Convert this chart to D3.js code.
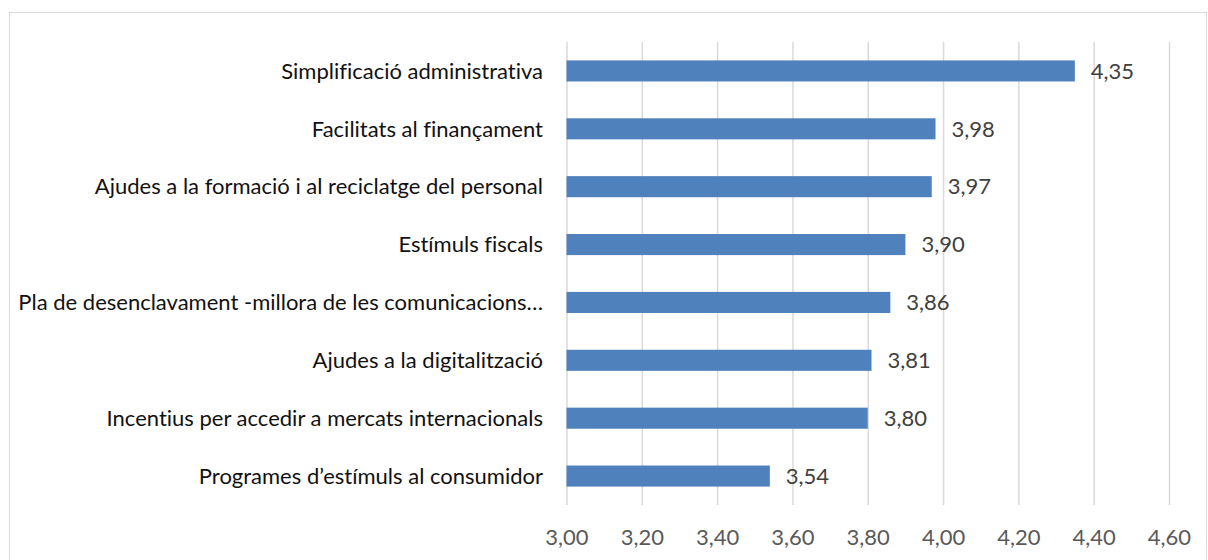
<!DOCTYPE html>
<html>
<head>
<meta charset="utf-8">
<script src="https://cdn.jsdelivr.net/npm/d3@7"></script>
<style>
  html, body { margin: 0; padding: 0; background: #ffffff; }
  svg { display: block; }
  text { font-variant-ligatures: none; }
</style>
</head>
<body>
<svg id="chart" width="1208" height="560"></svg>
<script>
const categories = [
  "Simplificació administrativa",
  "Facilitats al finançament",
  "Ajudes a la formació i al reciclatge del personal",
  "Estímuls fiscals",
  "Pla de desenclavament -millora de les comunicacions…",
  "Ajudes a la digitalització",
  "Incentius per accedir a mercats internacionals",
  "Programes d’estímuls al consumidor"
];
const values = [4.35, 3.98, 3.97, 3.90, 3.86, 3.81, 3.80, 3.54];
const tickValues = [3.0, 3.2, 3.4, 3.6, 3.8, 4.0, 4.2, 4.4, 4.6];

const fmt = v => v.toFixed(2).replace(".", ",");
const FONT = "Lato, 'Open Sans', sans-serif";

const svg = d3.select("#chart");

// chart frame
svg.append("rect")
  .attr("x", 9.5).attr("y", 12.5)
  .attr("width", 1197).attr("height", 560)
  .attr("fill", "#ffffff")
  .attr("stroke", "#d9d9d9")
  .attr("stroke-width", 1);

const x = d3.scaleLinear().domain([3.0, 4.6]).range([566.5, 1169]);
const pi = 0.636;
const y = d3.scaleBand().domain(categories).range([42, 505])
  .paddingInner(pi).paddingOuter(pi / 2);

// gridlines via axis
const gridAxis = d3.axisBottom(x).tickValues(tickValues)
  .tickSize(-(505 - 42)).tickFormat("");
const grid = svg.append("g").attr("transform", "translate(0,505)").call(gridAxis);
grid.select(".domain").remove();
grid.selectAll(".tick line").attr("stroke", "#d9d9d9").attr("stroke-width", 1.5);

// x tick labels
const xAxis = d3.axisBottom(x).tickValues(tickValues).tickSize(0).tickPadding(0).tickFormat(fmt);
const xg = svg.append("g").attr("transform", "translate(0,505)").call(xAxis);
xg.select(".domain").remove();
xg.selectAll(".tick text")
  .attr("y", 40).attr("dy", 0)
  .attr("fill", "#595959")
  .style("font-family", FONT).style("font-size", "22px");

// y category labels
const yAxis = d3.axisLeft(y).tickSize(0).tickPadding(0);
const yg = svg.append("g").attr("transform", "translate(543,0)").call(yAxis);
yg.select(".domain").remove();
yg.selectAll(".tick text")
  .attr("x", 0).attr("dy", "0.35em")
  .attr("fill", "#111111")
  .style("font-family", FONT).style("font-size", "22px");

// bars
svg.append("g").selectAll("rect")
  .data(categories)
  .join("rect")
  .attr("x", x(3.0))
  .attr("y", d => y(d))
  .attr("width", (d, i) => x(values[i]) - x(3.0))
  .attr("height", y.bandwidth())
  .attr("fill", "#4f81bd");

// value labels
svg.append("g").selectAll("text")
  .data(categories)
  .join("text")
  .attr("x", (d, i) => x(values[i]) + 16)
  .attr("y", d => y(d) + y.bandwidth() / 2)
  .attr("dy", "0.35em")
  .attr("fill", "#404040")
  .style("font-family", FONT).style("font-size", "22px")
  .text((d, i) => fmt(values[i]));
</script>
</body>
</html>
